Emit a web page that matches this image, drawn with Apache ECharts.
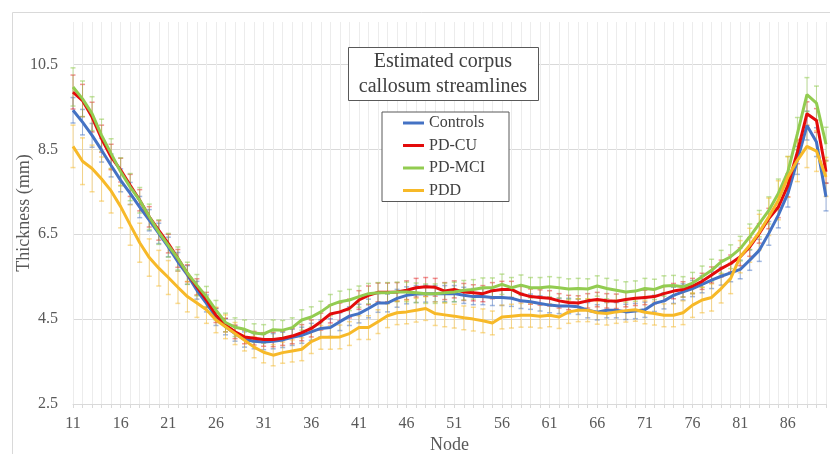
<!DOCTYPE html>
<html><head><meta charset="utf-8">
<script src="https://cdn.jsdelivr.net/npm/echarts@6/dist/echarts.min.js"></script>
<style>html,body{margin:0;padding:0;background:#fff}#c{width:830px;height:454px}</style>
</head><body><div id="c"></div>
<script>
const nodes = ['11','12','13','14','15','16','17','18','19','20','21','22','23','24','25','26','27','28','29','30','31','32','33','34','35','36','37','38','39','40','41','42','43','44','45','46','47','48','49','50','51','52','53','54','55','56','57','58','59','60','61','62','63','64','65','66','67','68','69','70','71','72','73','74','75','76','77','78','79','80','81','82','83','84','85','86','87','88','89','90'];
const seriesNames = ['Controls','PD-CU','PD-MCI','PDD'];
const controls = [9.42,9.14,8.83,8.48,8.12,7.77,7.46,7.14,6.83,6.52,6.20,5.85,5.54,5.18,4.87,4.55,4.32,4.16,4.02,3.98,3.96,3.98,4.01,4.07,4.12,4.20,4.28,4.30,4.44,4.57,4.63,4.75,4.88,4.88,4.99,5.06,5.09,5.10,5.10,5.10,5.10,5.06,5.03,5.03,5.01,5.01,4.99,4.93,4.91,4.87,4.83,4.81,4.81,4.79,4.71,4.66,4.71,4.71,4.67,4.69,4.72,4.87,4.93,5.06,5.14,5.22,5.32,5.42,5.51,5.59,5.67,5.89,6.12,6.52,6.95,7.46,8.24,9.06,8.67,7.38];
const pdcu = [9.85,9.65,9.26,8.75,8.32,8.01,7.65,7.30,6.91,6.59,6.28,5.93,5.58,5.26,4.95,4.59,4.36,4.20,4.08,4.05,4.02,4.02,4.05,4.10,4.18,4.28,4.44,4.62,4.67,4.75,4.95,5.06,5.13,5.13,5.14,5.18,5.24,5.26,5.25,5.16,5.20,5.14,5.12,5.10,5.17,5.20,5.20,5.09,5.03,5.01,4.99,4.93,4.89,4.88,4.93,4.96,4.93,4.92,4.96,4.99,5.01,5.03,5.10,5.16,5.20,5.28,5.39,5.54,5.69,5.81,5.97,6.20,6.52,6.87,7.14,7.65,8.44,9.34,9.18,7.97];
const pdmci = [9.97,9.69,9.34,8.83,8.40,7.97,7.61,7.30,6.91,6.55,6.24,5.93,5.58,5.30,5.03,4.71,4.42,4.31,4.26,4.17,4.15,4.25,4.24,4.30,4.48,4.55,4.67,4.83,4.91,4.95,5.03,5.10,5.12,5.12,5.14,5.14,5.12,5.10,5.10,5.12,5.14,5.18,5.20,5.24,5.24,5.32,5.24,5.30,5.24,5.24,5.26,5.24,5.21,5.22,5.21,5.28,5.22,5.18,5.14,5.16,5.22,5.20,5.28,5.29,5.26,5.35,5.50,5.65,5.85,5.97,6.16,6.44,6.75,7.06,7.46,7.97,8.87,9.79,9.59,8.62];
const pdd = [8.57,8.22,8.05,7.80,7.52,7.15,6.72,6.30,5.95,5.70,5.48,5.25,5.03,4.88,4.72,4.48,4.32,4.16,4.00,3.84,3.72,3.65,3.71,3.75,3.79,3.97,4.07,4.07,4.08,4.16,4.30,4.30,4.44,4.58,4.65,4.67,4.71,4.75,4.63,4.60,4.57,4.53,4.50,4.46,4.41,4.55,4.57,4.59,4.59,4.57,4.59,4.55,4.67,4.71,4.71,4.65,4.63,4.67,4.70,4.72,4.66,4.63,4.59,4.59,4.65,4.83,4.95,5.01,5.22,5.46,5.97,6.24,6.55,6.91,7.30,7.85,8.24,8.57,8.46,7.85];
const errControls = [0.30,0.30,0.28,0.28,0.27,0.27,0.26,0.25,0.25,0.24,0.23,0.22,0.22,0.21,0.20,0.20,0.19,0.18,0.18,0.18,0.18,0.18,0.18,0.19,0.19,0.20,0.20,0.21,0.21,0.22,0.22,0.22,0.22,0.21,0.21,0.20,0.20,0.20,0.19,0.19,0.19,0.19,0.19,0.19,0.19,0.19,0.19,0.18,0.18,0.18,0.18,0.18,0.18,0.18,0.18,0.18,0.18,0.18,0.18,0.18,0.18,0.19,0.19,0.19,0.19,0.19,0.20,0.20,0.21,0.21,0.22,0.24,0.26,0.28,0.30,0.32,0.33,0.34,0.34,0.33];
const errPdcu = [0.40,0.38,0.35,0.32,0.30,0.28,0.26,0.25,0.24,0.23,0.22,0.21,0.20,0.19,0.18,0.17,0.16,0.16,0.16,0.16,0.16,0.17,0.17,0.18,0.19,0.20,0.20,0.21,0.21,0.22,0.22,0.22,0.22,0.22,0.22,0.22,0.22,0.22,0.21,0.20,0.20,0.20,0.19,0.19,0.19,0.19,0.19,0.18,0.18,0.18,0.18,0.17,0.17,0.17,0.17,0.17,0.17,0.17,0.17,0.17,0.17,0.17,0.17,0.18,0.18,0.18,0.19,0.19,0.20,0.20,0.21,0.22,0.23,0.24,0.25,0.27,0.28,0.28,0.28,0.27];
const errPdmci = [0.45,0.42,0.40,0.38,0.35,0.33,0.32,0.30,0.30,0.29,0.28,0.27,0.26,0.25,0.24,0.23,0.22,0.22,0.22,0.22,0.22,0.23,0.23,0.23,0.24,0.24,0.25,0.25,0.25,0.25,0.25,0.24,0.24,0.24,0.23,0.23,0.23,0.23,0.23,0.23,0.23,0.23,0.23,0.23,0.23,0.24,0.24,0.24,0.24,0.24,0.24,0.24,0.24,0.24,0.24,0.24,0.24,0.24,0.24,0.24,0.24,0.24,0.24,0.24,0.24,0.25,0.25,0.26,0.27,0.28,0.29,0.30,0.31,0.32,0.34,0.36,0.38,0.40,0.40,0.40];
const errPdd = [0.50,0.55,0.55,0.52,0.52,0.50,0.48,0.46,0.44,0.42,0.40,0.38,0.36,0.34,0.32,0.30,0.28,0.26,0.25,0.25,0.25,0.25,0.25,0.26,0.27,0.28,0.28,0.28,0.28,0.28,0.28,0.28,0.28,0.28,0.28,0.28,0.28,0.28,0.28,0.28,0.28,0.28,0.28,0.28,0.28,0.28,0.28,0.28,0.28,0.28,0.27,0.27,0.27,0.27,0.27,0.27,0.27,0.27,0.27,0.27,0.27,0.27,0.27,0.27,0.28,0.29,0.30,0.32,0.34,0.36,0.38,0.40,0.42,0.44,0.46,0.48,0.50,0.50,0.48,0.46];
const yTicks = ['2.5','4.5','6.5','8.5','10.5'];
const titleLines = ['Estimated corpus','callosum streamlines'];

const colors = ['#4472C4','#E30B0B','#92CC50','#F7B928'];
const errColors = ['rgba(68,114,196,0.5)','rgba(227,11,11,0.45)','rgba(146,204,80,0.55)','rgba(247,185,40,0.5)'];
const values = [controls, pdcu, pdmci, pdd];
const errs = [errControls, errPdcu, errPdmci, errPdd];
const FONT = '"Liberation Serif", "DejaVu Serif", serif';

const chart = echarts.init(document.getElementById('c'), null, {renderer:'canvas'});

const lineSeries = seriesNames.map((n, i) => ({
  name: n, type: 'line', data: values[i], symbol: 'none', smooth: false,
  lineStyle: {width: 3, color: colors[i]}, itemStyle: {color: colors[i]}, z: 3 + i
}));
const errSeries = seriesNames.map((n, i) => ({
  name: n + ' error', type: 'custom', z: 2,
  data: values[i].map((v, k) => [k, v - errs[i][k], v + errs[i][k]]),
  renderItem: function (params, api) {
    const x = api.value(0);
    const lo = api.coord([x, api.value(1)]);
    const hi = api.coord([x, api.value(2)]);
    const hw = 2.5;
    const st = {stroke: errColors[i], lineWidth: 1};
    return {type: 'group', children: [
      {type: 'line', shape: {x1: lo[0], y1: lo[1], x2: hi[0], y2: hi[1]}, style: st},
      {type: 'line', shape: {x1: lo[0]-hw, y1: lo[1], x2: lo[0]+hw, y2: lo[1]}, style: {stroke: errColors[i], lineWidth: 1.5}},
      {type: 'line', shape: {x1: hi[0]-hw, y1: hi[1], x2: hi[0]+hw, y2: hi[1]}, style: {stroke: errColors[i], lineWidth: 1.5}}
    ]};
  },
  encode: {x: 0, y: [1, 2]},
  silent: true
}));

chart.setOption({
  animation: false,
  backgroundColor: '#fff',
  grid: {left: 73, right: 4, top: 22, bottom: 50, containLabel: false, outerBoundsMode: 'none'},
  legend: {
    data: seriesNames.map(n => ({name: n, icon: 'rect'})),
    orient: 'vertical', left: 382, top: 112,
    padding: [3, 24, 3, 21], itemGap: 6.5, itemWidth: 21, itemHeight: 3,
    borderColor: '#595959', borderWidth: 1, backgroundColor: '#fff',
    textStyle: {fontFamily: FONT, fontSize: 16, color: '#404040', lineHeight: 14},
    selectedMode: false
  },
  xAxis: {
    type: 'category', data: nodes, boundaryGap: false,
    name: 'Node', nameLocation: 'middle', nameGap: 32, nameMoveOverlap: false,
    nameTextStyle: {fontFamily: FONT, fontSize: 18, color: '#595959'},
    axisLine: {show: true, lineStyle: {color: '#d9d9d9'}},
    axisTick: {show: true, interval: 0, length: 4, lineStyle: {color: '#d9d9d9'}},
    axisLabel: {interval: 4, margin: 12, fontFamily: FONT, fontSize: 16, color: '#595959'},
    splitLine: {show: true, interval: 0, lineStyle: {color: '#ececec', width: 1}}
  },
  yAxis: {
    type: 'value', min: 2.5, max: 11.5, interval: 2,
    name: 'Thickness (mm)', nameLocation: 'middle', nameGap: 40, nameRotate: 90, nameMoveOverlap: false,
    nameTextStyle: {fontFamily: FONT, fontSize: 18, color: '#595959'},
    axisLine: {show: false}, axisTick: {show: false},
    axisLabel: {margin: 15, fontFamily: FONT, fontSize: 16, color: '#595959', showMaxLabel: false,
      formatter: v => { const s = v.toFixed(1); return yTicks.indexOf(s) >= 0 ? s : ''; }},
    splitLine: {show: true, showMaxLine: false, lineStyle: {color: ['#d9d9d9','#d9d9d9','#d9d9d9','#d9d9d9','#d9d9d9','rgba(0,0,0,0)'], width: 1}}
  },
  graphic: [
    {type: 'rect', shape: {x: 12.5, y: 12.5, width: 840, height: 460}, style: {fill: 'none', stroke: '#d9d9d9', lineWidth: 1}, z: 0, silent: true},
    {type: 'rect', shape: {x: 348.5, y: 47.5, width: 190, height: 53}, style: {fill: '#fff', stroke: '#595959', lineWidth: 1}, z: 10},
    {type: 'text', x: 443, y: 62, style: {text: titleLines[0], fontFamily: FONT, fontSize: 20, fill: '#404040', align: 'center', verticalAlign: 'middle'}, z: 11},
    {type: 'text', x: 443, y: 87, style: {text: titleLines[1], fontFamily: FONT, fontSize: 20, fill: '#404040', align: 'center', verticalAlign: 'middle'}, z: 11}
  ],
  series: [...errSeries, ...lineSeries]
});
</script></body></html>
